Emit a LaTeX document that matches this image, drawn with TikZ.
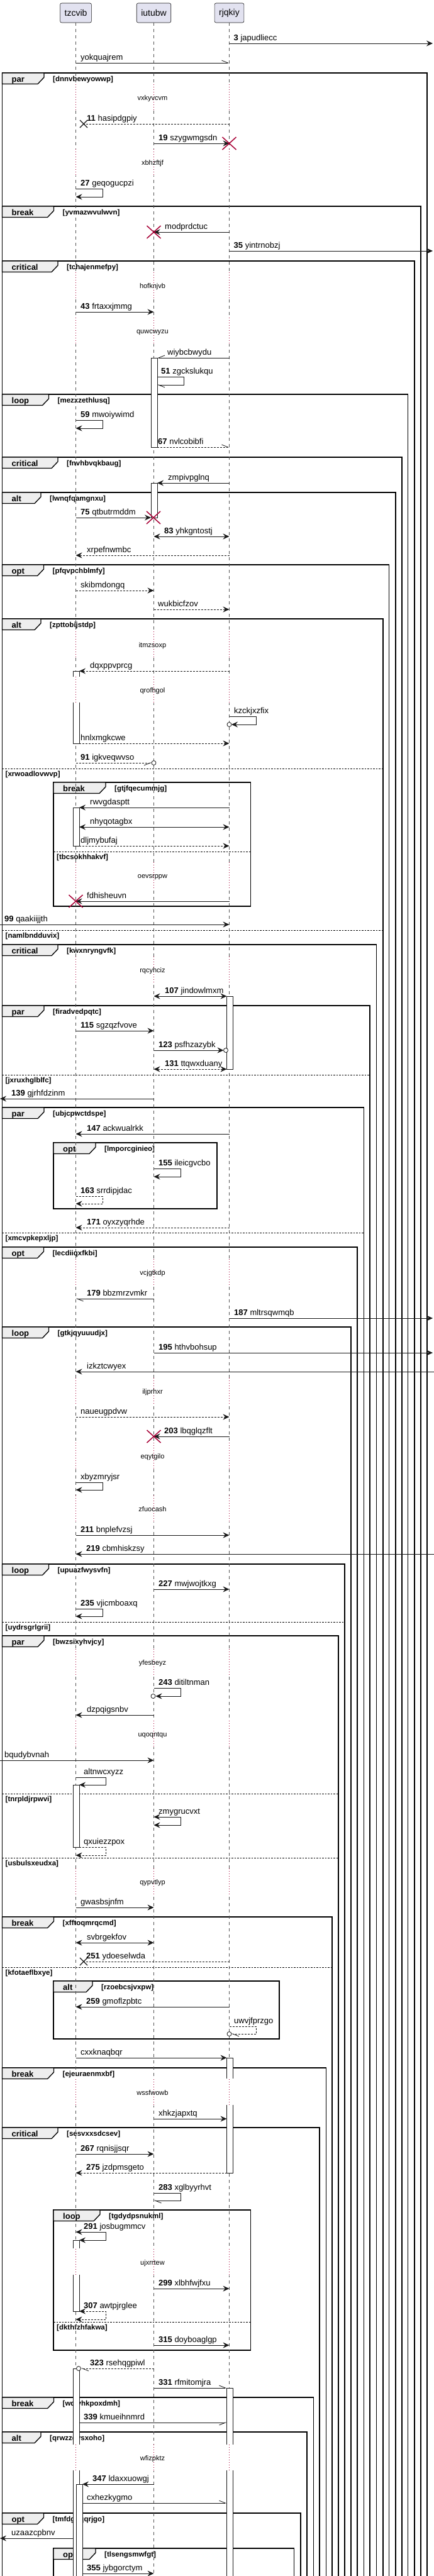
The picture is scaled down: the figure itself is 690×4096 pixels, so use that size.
\documentclass[tikz,border=0pt]{standalone}
\usepackage{fontspec}
\setmainfont{Liberation Sans}
\usetikzlibrary{arrows.meta}
\definecolor{ln}{HTML}{181818}
\definecolor{llc}{HTML}{555555}
\definecolor{tabf}{HTML}{EEEEEE}
\definecolor{pf}{HTML}{E2E2F0}
\definecolor{dred}{HTML}{A80036}
\newcounter{nd}
\newcommand\nx{\stepcounter{nd}}
\newcommand\Msg[4]{\draw[msg,#1] (#2|-0,#4) -- (#3|-0,#4);}
\newcommand\Self[6]{\draw[msg,#1] (#2|-0,#5) -- (#3,#5) -- (#3,#6) -- (#4|-0,#6);}
\newcommand\LabN[4]{\nx\node[mlab] (n\arabic{nd}) at (#1,#2-5) {\textbf{#3} #4};}
\newcommand\LabT[3]{\nx\node[mlab] (n\arabic{nd}) at (#1,#2-5) {#3};}
\newcommand\Circ[2]{\draw[msg,fill=white] (#1,#2) circle (3.5pt);}
\newcommand\RX[2]{\draw[rx] (#1-11,#2-10) -- (#1+11,#2+10) (#1-11,#2+10) -- (#1+11,#2-10);}
\newcommand\BX[2]{\draw[bx] (#1-6,#2-6) -- (#1+6,#2+6) (#1-6,#2+6) -- (#1+6,#2-6);}
\newcommand\Frame[7]{%
  \draw[frm] (#1,#2) rectangle (#3,#4);
  \draw[frm,fill=tabf] (#1,#2) -- ++(#6,0) -- ++(0,7) -- ++(-10,10.5) -- (#1,#2+17.5) -- cycle;
  \nx\node[kw] (n\arabic{nd}) at (#1+15,#2+14) {#5};
  \nx\node[glab] (n\arabic{nd}) at (#1+#6+14,#2+13) {[#7]};}
\newcommand\Else[4]{%
  \draw[divl] (#1,#3) -- (#2,#3);
  \nx\node[glab] (n\arabic{nd}) at (#1+5,#3+12) {[#4]};}
\newcommand\Delay[2]{%
  \foreach \xx in {120.5,244.5,364.5}{\fill[white] (\xx-1.5,#1-21) rectangle (\xx+1.5,#1+21); \draw[dly] (\xx,#1-21) -- (\xx,#1+21);}
  \nx\node[dtxt] (n\arabic{nd}) at (242.5,#1+4) {#2};}
\newcommand\BarC[4]{\draw[act] (#1,#2) rectangle (#3,#4);}
\newcommand\BarOB[4]{\fill[white] (#1,#2) rectangle (#3,#4); \draw[msg] (#1,#4) -- (#1,#2) -- (#3,#2) -- (#3,#4);}
\newcommand\BarOT[4]{\fill[white] (#1,#2) rectangle (#3,#4); \draw[msg] (#1,#2) -- (#1,#4) -- (#3,#4) -- (#3,#2);}
\begin{document}
\begin{tikzpicture}[x=1pt,y=-1pt,
  mlab/.style={anchor=base west,inner sep=0pt,font=\fontsize{13}{15}\selectfont},
  kw/.style={anchor=base west,inner sep=0pt,font=\fontsize{13}{15}\selectfont\bfseries},
  glab/.style={anchor=base west,inner sep=0pt,font=\fontsize{11.5}{13}\selectfont\bfseries},
  dtxt/.style={anchor=base,inner sep=0pt,font=\fontsize{11}{13}\selectfont},
  part/.style={draw=ln,fill=pf,rounded corners=2.5pt,inner xsep=7pt,inner ysep=0pt,minimum height=31pt,font=\fontsize{14}{16}\selectfont,line width=0.6pt},
  frm/.style={draw=black,line width=1.3pt},
  divl/.style={draw=black,line width=0.8pt,dash pattern=on 2.5pt off 2pt},
  lifel/.style={draw=llc,line width=0.7pt,dash pattern=on 5pt off 5pt},
  dly/.style={draw=dred,line width=0.8pt,dash pattern=on 1pt off 3pt},
  msg/.style={draw=ln,line width=0.8pt},
  act/.style={draw=ln,line width=0.8pt,fill=white},
  dsh/.style={dash pattern=on 3pt off 2pt},
  ar/.style={arrows={-Stealth[length=10pt,width=9pt,inset=3.5pt]}},
  artwo/.style={arrows={Stealth[length=10pt,width=9pt,inset=3.5pt]-Stealth[length=10pt,width=9pt,inset=3.5pt]}},
  hp/.style={arrows={-Straight Barb[harpoon,length=10pt,width=8pt]}},
  hps/.style={arrows={-Straight Barb[harpoon,swap,length=10pt,width=8pt]}},
  rx/.style={draw=dred,line width=1.5pt},
  bx/.style={draw=ln,line width=1.3pt}]
\useasboundingbox (0,0) rectangle (690,4096);
\clip (0,0) rectangle (690,4096);
\fill[white] (0,0) rectangle (690,4096);
% x positions
\coordinate (A) at (120.5,0); \coordinate (B) at (244.5,0); \coordinate (C) at (364.5,0);
\coordinate (L) at (0,0); \coordinate (R) at (688,0); \coordinate (RS) at (690,0);
\coordinate (Ab) at (126,0); \coordinate (Abl) at (116,0); \coordinate (Ab2) at (131,0);
\coordinate (Bb) at (250,0); \coordinate (Bl) at (240,0); \coordinate (Cb) at (360.5,0);
\coordinate (Ax) at (133,0); \coordinate (Bc) at (241,0); \coordinate (Bc2) at (247.5,0);
\coordinate (Cc) at (368,0); \coordinate (Cc2) at (355.5,0); \coordinate (Ac) at (129,0);
% frames
\Frame{3.5}{116}{679}{4110}{par}{66.5}{dnnvbewyowwp}
\Frame{3.5}{328}{669}{4110}{break}{82}{yvmazwvulwvn}
\Frame{3.5}{415}{659}{4110}{critical}{88.5}{tchajenmefpy}
\Frame{3.5}{627}{648.5}{4110}{loop}{74}{mezxzethlusq}
\Frame{3.5}{727}{639}{4110}{critical}{88.5}{fnvhbvqkbaug}
\Frame{3.5}{783}{629}{4110}{alt}{61.5}{lwnqfqamgnxu}
\Frame{3.5}{898}{618.5}{4110}{opt}{66}{pfqvpchblmfy}
\Frame{3.5}{984}{609}{4110}{alt}{61.5}{zpttobijstdp}
\Else{3.5}{609}{1222}{xrwoadlovwvp}
\Else{3.5}{609}{1479}{namlbndduvix}
\Frame{3.5}{1502}{598.5}{4110}{critical}{88.5}{kwxnryngvfk}
\Frame{3.5}{1599}{588}{4110}{par}{66.5}{firadvedpqtc}
\Else{3.5}{588}{1709}{jxruxhglblfc}
\Frame{3.5}{1761}{578.5}{4110}{par}{66.5}{ubjcpwctdspe}
\Else{3.5}{578.5}{1960}{xmcvpkepxljp}
\Frame{3.5}{1983}{568}{4110}{opt}{66}{lecdiiqxfkbi}
\Frame{3.5}{2110}{558}{4110}{loop}{74}{gtkjqyuuudjx}
\Frame{3.5}{2487}{548}{4110}{loop}{74}{upuazfwysvfn}
\Else{3.5}{548}{2579}{uydrsgrlgrii}
\Frame{3.5}{2601}{538}{4110}{par}{66.5}{bwzsixyhvjcy}
\Else{3.5}{538}{2852}{tnrpldjrpwvi}
\Else{3.5}{538}{2954}{usbulsxeudxa}
\Frame{3.5}{3048}{528}{4110}{break}{82}{xfftoqmrqcmd}
\Else{3.5}{528}{3128}{kfotaeflbxye}
\Frame{3.5}{3288}{518.5}{4110}{break}{82}{ejeuraenmxbf}
\Frame{3.5}{3383}{508}{4110}{critical}{88.5}{sesvxxsdcsev}
\Frame{3.5}{3812}{498.5}{4110}{break}{82}{wdjvhkpoxdmh}
\Frame{3.5}{3867}{488}{4110}{alt}{61.5}{qrwzzqysxoho}
\Frame{3.5}{3996}{478}{4110}{opt}{66}{tmfdguqqrjgo}
\Frame{85}{1244}{398.5}{1441}{break}{83}{gtjfqecummjg}
\Else{85}{398.5}{1354}{tbcsokhhakvf}
\Frame{85}{1817}{345}{1922}{opt}{67}{lmporcginieo}
\Frame{85}{3150}{444}{3242}{alt}{62}{rzoebcsjvxpw}
\Frame{85}{3514}{398.5}{3737}{loop}{74}{tgdydpsnukml}
\Else{85}{398.5}{3692}{dkthfzhfakwa}
\Frame{85}{4052}{467.5}{4110}{opt}{67}{tlsengsmwfgt}
% participants and lifelines
\node[part] (pA) at (120.5,20.5) {tzcvib};
\node[part] (pB) at (244.5,20.5) {iutubw};
\node[part] (pC) at (364.5,20.5) {rjqkiy};
\draw[lifel] (pA.south) -- (pA.south |- 0,4110);
\draw[lifel] (pB.south) -- (pB.south |- 0,4110);
\draw[lifel] (pC.south) -- (pC.south |- 0,4110);
% delays
\Delay{155}{vxkyvcvm}
\Delay{258}{xbhzftjf}
\Delay{454}{hofknjvb}
\Delay{526}{quwcwyzu}
\Delay{1025}{itmzsoxp}
\Delay{1097}{qrofhgol}
\Delay{1392}{oevsrppw}
\Delay{1542}{rqcyhciz}
\Delay{2023}{vcjgtkdp}
\Delay{2212}{iljprhxr}
\Delay{2315}{eqytgilo}
\Delay{2399}{zfuocash}
\Delay{2643}{yfesbeyz}
\Delay{2757}{uqoqntqu}
\Delay{2992}{qypvtlyp}
\Delay{3327}{wssfwowb}
\Delay{3597}{ujxrrtew}
\Delay{3908}{wfizpktz}
% activation bars
\BarC{240}{569}{250}{711}
\BarC{240}{768}{250}{823}
\BarOB{116}{1067}{126}{1076}
\BarOT{116}{1117}{126}{1182}
\BarC{116}{1284}{126}{1345}
\BarC{360.5}{1584}{370}{1700}
\BarC{116}{2838}{126}{2937}
\BarOB{360.5}{3272}{370}{3305}
\BarOT{360.5}{3347}{370}{3455}
\BarOB{116}{3562}{126}{3575}
\BarOT{116}{3617}{126}{3675}
\BarOB{116}{3766}{126}{3887}
\BarOT{116}{3928}{126}{4110}
\BarOB{360.5}{3797}{370}{3887}
\BarOT{360.5}{3928}{370}{4110}
\BarC{121}{3950}{131}{4110}
% messages
\Msg{ar}{C}{R}{69} \LabN{371.5}{69}{3}{japudliecc}
\Msg{hp}{A}{C}{100} \LabT{128}{100}{yokquajrem}
\Msg{dsh}{C}{Ax}{197} \BX{133}{197} \LabN{138}{197}{11}{hasipdgpiy}
\Msg{ar}{B}{C}{228} \RX{364.5}{228} \LabN{252}{228}{19}{szygwmgsdn}
\Self{ar}{A}{163}{A}{300}{313} \LabN{128}{300}{27}{geqogucpzi}
\Msg{ar}{C}{B}{369} \RX{244.5}{369} \LabT{262}{369}{modprdctuc}
\Msg{ar}{C}{R}{399} \LabN{371.5}{399}{35}{yintrnobzj}
\Msg{ar}{A}{B}{496} \LabN{128}{496}{43}{frtaxxjmmg}
\Msg{hps}{C}{Bb}{569} \LabT{266}{569}{wiybcbwydu}
\Self{hp}{Bb}{292}{Bb}{599}{612} \LabN{256}{599}{51}{zgckslukqu}
\Self{ar}{A}{163}{A}{668}{681} \LabN{128}{668}{59}{mwoiywimd}
\Msg{dsh,hp}{Bb}{C}{711} \LabN{251}{711}{67}{nvlcobibfi}
\Msg{ar}{C}{Bb}{768} \LabT{267}{768}{zmpivpglnq}
\Msg{ar}{A}{Bl}{823} \RX{244}{823} \LabN{128}{823}{75}{qtbutrmddm}
\Msg{artwo}{B}{C}{853} \LabN{261}{853}{83}{yhkgntostj}
\Msg{dsh,ar}{C}{A}{883} \LabT{138}{883}{xrpefnwmbc}
\Msg{dsh,ar}{A}{B}{939} \LabT{128}{939}{skibmdongq}
\Msg{dsh,ar}{B}{C}{969} \LabT{251}{969}{wukbicfzov}
\Msg{dsh,ar}{C}{Ab}{1067} \LabT{143}{1067}{dqxppvprcg}
\Self{ar}{C}{407}{Cc}{1139}{1152} \Circ{364.5}{1152} \LabT{372}{1139}{kzckjxzfix}
\Msg{dsh,ar}{Ab}{C}{1182} \LabT{128}{1182}{hnlxmgkcwe}
\Msg{dsh,hps}{A}{Bc}{1213} \Circ{244.5}{1213} \LabN{128}{1213}{91}{igkveqwvso}
\Msg{ar}{C}{Ab}{1284} \LabT{143}{1284}{rwvgdasptt}
\Msg{artwo}{Ab}{C}{1315} \LabT{143}{1315}{nhyqotagbx}
\Msg{dsh,ar}{Ab}{C}{1345} \LabT{128}{1345}{dljmybufaj}
\Msg{ar}{C}{A}{1433} \RX{120.5}{1433} \LabT{138}{1433}{fdhisheuvn}
\Msg{ar}{L}{C}{1470} \LabN{7}{1470}{99}{qaakiijjth}
\Msg{artwo}{B}{Cb}{1584} \LabN{262}{1584}{107}{jindowlmxm}
\Msg{ar}{A}{B}{1639} \LabN{128}{1639}{115}{sgzqzfvove}
\Msg{ar}{B}{Cc2}{1670} \Circ{359}{1670} \LabN{252}{1670}{123}{psfhzazybk}
\Msg{dsh,artwo}{B}{Cb}{1700} \LabN{262}{1700}{131}{ttqwxduany}
\Msg{ar}{B}{L}{1747} \LabN{18}{1747}{139}{gjrhfdzinm}
\Msg{ar}{C}{A}{1803} \LabN{138}{1803}{147}{ackwualrkk}
\Self{ar}{B}{287}{B}{1858}{1871} \LabN{252}{1858}{155}{ileicgvcbo}
\Self{dsh,ar}{A}{163}{A}{1902}{1914} \LabN{128}{1902}{163}{srrdipjdac}
\Msg{dsh,ar}{C}{A}{1952} \LabN{138}{1952}{171}{oyxzyqrhde}
\Msg{hp}{B}{A}{2065} \LabN{138}{2065}{179}{bbzmrzvmkr}
\Msg{ar}{C}{R}{2096} \LabN{372}{2096}{187}{mltrsqwmqb}
\Msg{ar}{B}{R}{2151} \LabN{252}{2151}{195}{hthvbohsup}
\Msg{ar}{RS}{A}{2181} \LabT{138}{2181}{izkztcwyex}
\Msg{dsh,ar}{A}{C}{2253} \LabT{128}{2253}{naueugpdvw}
\Msg{ar}{C}{B}{2284} \RX{244.5}{2284} \LabN{261}{2284}{203}{lbqglqzflt}
\Self{ar}{A}{163}{A}{2357}{2369} \LabT{128}{2357}{xbyzmryjsr}
\Msg{ar}{A}{C}{2441} \LabN{128}{2441}{211}{bnplefvzsj}
\Msg{ar}{RS}{A}{2471} \LabN{137}{2471}{219}{cbmhiskzsy}
\Msg{ar}{B}{C}{2527} \LabN{252}{2527}{227}{mwjwojtkxg}
\Self{ar}{A}{163}{A}{2558}{2570} \LabN{128}{2558}{235}{vjicmboaxq}
\Self{ar}{B}{287}{Bc2}{2684}{2697} \Circ{243.5}{2697} \LabN{252}{2684}{243}{ditiltnman}
\Msg{ar}{B}{A}{2727} \LabT{138}{2727}{dzpqigsnbv}
\Msg{ar}{L}{B}{2799} \LabT{7}{2799}{bqudybvnah}
\Self{ar}{A}{168.5}{Ab}{2826}{2838} \LabT{133}{2826}{altnwcxyzz}
\Self{artwo}{B}{287}{B}{2889}{2902} \LabT{252}{2889}{zmygrucvxt}
\Self{dsh,ar}{Ab}{168.5}{A}{2937}{2950} \LabT{133}{2937}{qxuiezzpox}
\Msg{ar}{A}{B}{3033} \LabT{128}{3033}{gwasbsjnfm}
\Msg{artwo}{A}{B}{3089} \LabT{138}{3089}{svbrgekfov}
\Msg{dsh}{C}{Ax}{3119} \BX{133}{3119} \LabN{137}{3119}{251}{ydoeselwda}
\Msg{ar}{C}{A}{3191} \LabN{137}{3191}{259}{gmoflzpbtc}
\Self{dsh,hp}{C}{407}{Cc}{3222}{3234} \Circ{364.5}{3234} \LabT{372}{3222}{uwvjfprzgo}
\Msg{ar}{A}{Cb}{3272} \LabT{128}{3272}{cxxknaqbqr}
\Msg{ar}{B}{Cb}{3369} \LabT{252}{3369}{xhkzjapxtq}
\Msg{ar}{A}{B}{3425} \LabN{128}{3425}{267}{rqnisjjsqr}
\Msg{dsh,ar}{Cb}{A}{3455} \LabN{137}{3455}{275}{jzdpmsgeto}
\Self{hp}{B}{287}{B}{3487}{3499} \LabN{252}{3487}{283}{xglbyyrhvt}
\Self{artwo}{A}{168.5}{Ab}{3549}{3562} \LabN{133}{3549}{291}{josbugmmcv}
\Msg{ar}{B}{C}{3639} \LabN{252}{3639}{299}{xlbhfwjfxu}
\Self{dsh,artwo}{Ab}{168.5}{A}{3675}{3688} \LabN{133}{3675}{307}{awtpjrglee}
\Msg{ar}{B}{C}{3729} \LabN{252}{3729}{315}{doyboaglgp}
\Msg{dsh,hp}{B}{Ac}{3766} \Circ{125}{3766} \LabN{143}{3766}{323}{rsehqgpiwl}
\Msg{hp}{B}{Cb}{3797} \LabN{252}{3797}{331}{rfmitomjra}
\Msg{hps}{Ab}{Cb}{3852} \LabN{133}{3852}{339}{kmueihnmrd}
\Msg{ar}{B}{Ab2}{3950} \LabN{147}{3950}{347}{ldaxxuowgj}
\Msg{hp}{Ab2}{Cb}{3980} \LabT{138}{3980}{cxhezkygmo}
\Msg{ar}{Abl}{L}{4036} \LabT{18}{4036}{uzaazcpbnv}
\Msg{ar}{Ab2}{B}{4092} \LabN{138}{4092}{355}{jybgorctym}
\end{tikzpicture}
\end{document}
